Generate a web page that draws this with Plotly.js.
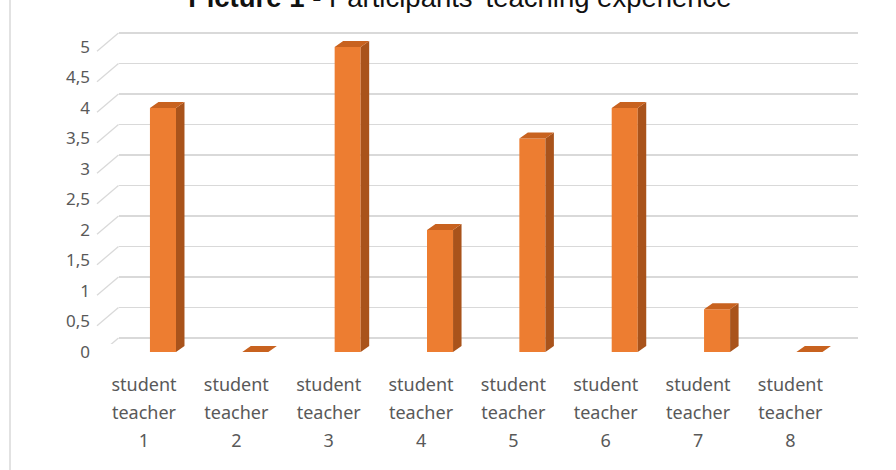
<!DOCTYPE html>
<html>
<head>
<meta charset="utf-8">
<script src="https://cdn.plot.ly/plotly-3.0.1.min.js"></script>
<style>html,body{margin:0;padding:0;background:#fff;}#chart{width:896px;height:470px;}</style>
</head>
<body>
<div id="chart"></div>
<script>
// ---- data ----
const line1 = ["student","student","student","student","student","student","student","student"];
const line2 = ["teacher","teacher","teacher","teacher","teacher","teacher","teacher","teacher"];
const line3 = ["1","2","3","4","5","6","7","8"];
const experience = [4, 0, 5, 2, 3.5, 4, 0.7, 0];
const yTickVals = [0, 0.5, 1, 1.5, 2, 2.5, 3, 3.5, 4, 4.5, 5];
const yTickText = ["0","0,5","1","1,5","2","2,5","3","3,5","4","4,5","5"];
const titleText = "<b>Picture 1 - </b>Participants' teaching experience";

// ---- geometry helpers (pixels -> paper fractions) ----
const W = 896, H = 470;
const px = v => v / W;
const py = v => 1 - v / H;
const idx = experience.map((_, i) => i);
const hw = 0.141, ddx = 0.092, ddy = 0.098;

// side and top faces built from the data
const sideX = [], sideY = [], topX = [], topY = [];
experience.forEach((v, i) => {
  sideX.push(i+hw, i+hw+ddx, i+hw+ddx, i+hw, i+hw, null);
  sideY.push(0, ddy, v+ddy, v, 0, null);
  topX.push(i-hw, i+hw, i+hw+ddx, i-hw+ddx, i-hw, null);
  topY.push(v, v, v+ddy, v+ddy, v, null);
});

const gray = '#595959';
const traces = [
  // back wall grid subplot (dummy)
  {x: idx, y: experience, xaxis: 'x', yaxis: 'y', type: 'scatter', mode: 'markers',
   marker: {opacity: 0}, hoverinfo: 'skip', showlegend: false},
  // front faces
  {x: idx, y: experience, xaxis: 'x2', yaxis: 'y2', type: 'bar', width: 2*hw,
   marker: {color: '#ED7D31', line: {width: 0}}, showlegend: false},
  {x: sideX, y: sideY, xaxis: 'x2', yaxis: 'y2', type: 'scatter', mode: 'lines',
   fill: 'toself', fillcolor: '#A9531B', line: {width: 0, color: '#A9531B'}, showlegend: false, hoverinfo: 'skip'},
  {x: topX, y: topY, xaxis: 'x2', yaxis: 'y2', type: 'scatter', mode: 'lines',
   fill: 'toself', fillcolor: '#C8621F', line: {width: 0, color: '#C8621F'}, showlegend: false, hoverinfo: 'skip'},
  // dummy traces for category label axes
  {x: idx, y: experience, xaxis: 'x3', yaxis: 'y2', type: 'scatter', mode: 'markers', marker: {opacity: 0}, hoverinfo: 'skip', showlegend: false},
  {x: idx, y: experience, xaxis: 'x4', yaxis: 'y2', type: 'scatter', mode: 'markers', marker: {opacity: 0}, hoverinfo: 'skip', showlegend: false},
  {x: idx, y: experience, xaxis: 'x5', yaxis: 'y2', type: 'scatter', mode: 'markers', marker: {opacity: 0}, hoverinfo: 'skip', showlegend: false}
];

const labelFont = {family: 'Noto Sans, sans-serif', size: 18, color: gray};
const labelDomain = [px(97.8), px(836.6)];
function labelAxis(text, posY) {
  return {domain: labelDomain, range: [-0.5, 7.5], anchor: 'free', position: py(posY),
    tickmode: 'array', tickvals: idx, ticktext: text, ticks: '', showgrid: false,
    zeroline: false, showline: false, tickfont: labelFont, fixedrange: true};
}

const shapes = [
  {type: 'line', xref: 'paper', yref: 'paper', x0: px(10), x1: px(10), y0: 0, y1: 1,
   line: {color: '#D9D9D9', width: 1.5}}
];
yTickVals.forEach(v => {
  shapes.push({type: 'line', xref: 'paper', yref: 'y', x0: px(97), x1: px(118.5),
    y0: v - 0.3, y1: v, line: {color: '#D9D9D9', width: 1.3}, layer: 'below'});
});

const layout = {
  width: W, height: H,
  margin: {l: 0, r: 0, t: 0, b: 0},
  paper_bgcolor: '#ffffff', plot_bgcolor: 'rgba(0,0,0,0)',
  showlegend: false,
  title: {text: titleText, font: {family: 'Liberation Sans, Arial, sans-serif', size: 27.5, color: '#111111'},
          x: px(460), xanchor: 'center', xref: 'paper', y: py(7), yref: 'container', yanchor: 'bottom'},
  xaxis: {domain: [px(118.5), px(858)], range: [-0.5, 7.5], showgrid: false, zeroline: false,
          showline: false, showticklabels: false, ticks: '', anchor: 'y', fixedrange: true},
  yaxis: {domain: [py(344.1), py(2.5)], range: [-0.1, 5.5], tickmode: 'array', tickvals: yTickVals,
          showgrid: true, gridcolor: '#D9D9D9', gridwidth: 1.5, zeroline: false, showline: false,
          showticklabels: false, ticks: '', anchor: 'x', fixedrange: true},
  xaxis2: {domain: [px(116.8), px(855.6)], range: [-0.5, 7.5], showgrid: false, zeroline: false,
           showline: false, showticklabels: false, ticks: '', anchor: 'y2', fixedrange: true},
  yaxis2: {domain: [py(352), py(16.5)], range: [0, 5.5], tickmode: 'array', tickvals: yTickVals,
           ticktext: yTickText, showgrid: false, zeroline: false, showline: false, ticks: '',
           anchor: 'free', position: px(90), tickfont: {family: 'Noto Sans, sans-serif', size: 17, color: gray},
           fixedrange: true},
  xaxis3: labelAxis(line1, 372),
  xaxis4: labelAxis(line2, 400),
  xaxis5: labelAxis(line3, 428),
  shapes: shapes
};

Plotly.newPlot('chart', traces, layout, {displayModeBar: false, staticPlot: true});
</script>
</body>
</html>
